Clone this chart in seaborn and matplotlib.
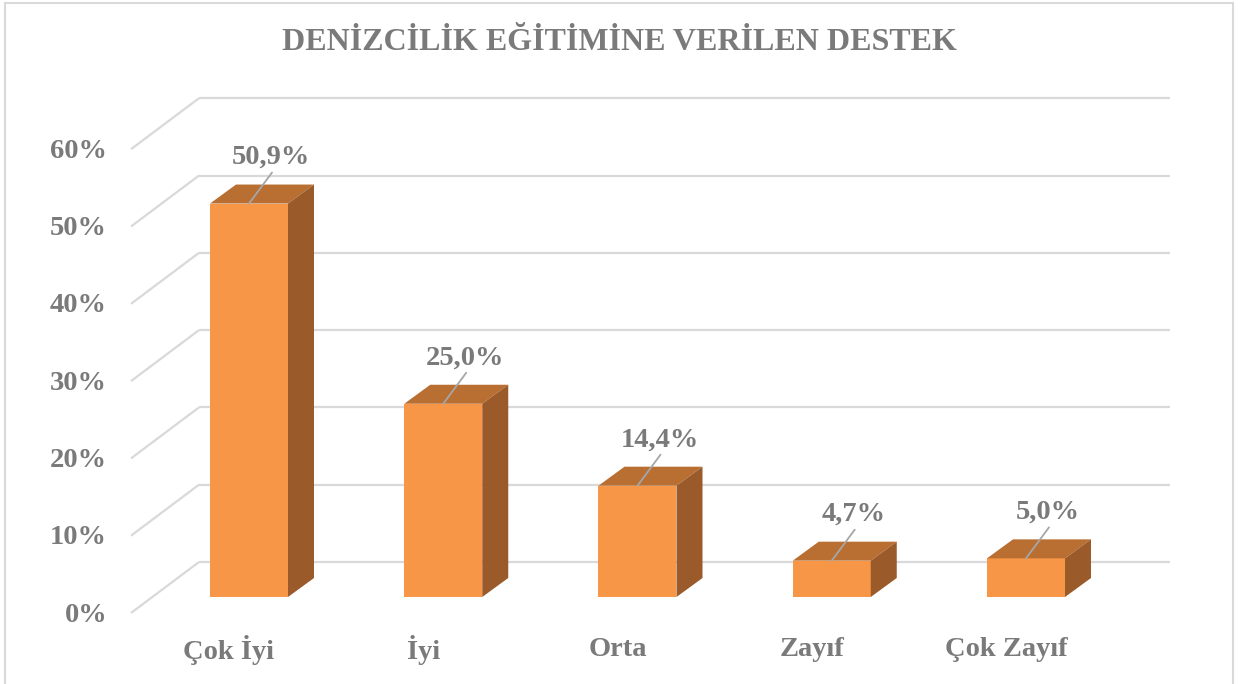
import matplotlib
matplotlib.use("Agg")
import matplotlib.pyplot as plt
from matplotlib.patches import Polygon, Rectangle
import seaborn as sns

# chart data
categories = ["Çok İyi", "İyi", "Orta", "Zayıf", "Çok Zayıf"]
values = [50.9, 25.0, 14.4, 4.7, 5.0]
value_labels = ["50,9%", "25,0%", "14,4%", "4,7%", "5,0%"]
y_ticks = [0, 10, 20, 30, 40, 50, 60]
y_tick_labels = ["0%", "10%", "20%", "30%", "40%", "50%", "60%"]
title = "DENİZCİLİK EĞİTİMİNE VERİLEN DESTEK"

# colours
front_col = "#F79646"
top_col = "#B96F32"
side_col = "#9A5A2A"
grid_col = "#D9D9D9"
text_col = "#7A7A7A"

sns.set_style("white")
plt.rcParams["font.family"] = ["Liberation Serif", "DejaVu Serif"]

W, H = 1242, 684
# pixel scale of the bar front plane
PX_X = 194.25   # px per category
PX_Y = 7.73     # px per percent
X0, Y0 = 249, 597


def dx(p):
    return p / PX_X


def dy(p):
    return -p / PX_Y


fig = plt.figure(figsize=(W / 100, H / 100), dpi=100)
ax = fig.add_axes([0, 0, 1, 1])

sns.barplot(x=categories, y=values, ax=ax, color=front_col, saturation=1,
            width=78 / PX_X, linewidth=0, zorder=3)

ax.set_xlim(dx(0 - X0), dx(W - X0))
ax.set_ylim(dy(H - Y0), dy(0 - Y0))
ax.axis("off")

# 3d depth offsets
bar_dx, bar_dy = dx(26), dy(-19)
front_dy = dy(16)
back_dy = dy(-35)
wall_left, wall_right = dx(199 - X0), dx(1170 - X0)

# gridlines: diagonal on the side wall + horizontal line on the back wall
for t, lab in zip(y_ticks, y_tick_labels):
    ax.plot([wall_left - dx(68), wall_left], [t + front_dy, t + back_dy],
            color=grid_col, lw=1.6, zorder=1, solid_capstyle="butt")
    ax.plot([wall_left, wall_right], [t + back_dy, t + back_dy],
            color=grid_col, lw=1.6, zorder=1, solid_capstyle="butt")
    ax.text(dx(107 - X0), t + front_dy + dy(2), lab, ha="right", va="center",
            fontsize=20.5, fontweight="bold", color=text_col)

# top and side faces of the bars
for p, lab in zip(ax.patches, value_labels):
    x0, w, h = p.get_x(), p.get_width(), p.get_height()
    top = Polygon([(x0, h), (x0 + w, h), (x0 + w + bar_dx, h + bar_dy),
                   (x0 + bar_dx, h + bar_dy)], closed=True,
                  facecolor=top_col, edgecolor="none", zorder=4)
    side = Polygon([(x0 + w, 0), (x0 + w + bar_dx, bar_dy),
                    (x0 + w + bar_dx, h + bar_dy), (x0 + w, h)], closed=True,
                   facecolor=side_col, edgecolor="none", zorder=4)
    ax.add_patch(top)
    ax.add_patch(side)
    cx = x0 + w / 2
    ax.plot([cx, cx + dx(23)], [h, h + dy(-31)], color="#A6A6A6", lw=1.3,
            zorder=5)
    ax.text(cx + dx(22), h + dy(-46), lab, ha="center", va="center",
            fontsize=20.5, fontweight="bold", color=text_col, zorder=6)

# category labels
for i, cat in enumerate(categories):
    ax.text(i + dx(-20), dy(650 - Y0), cat, ha="center", va="center",
            fontsize=20.5, fontweight="bold", color=text_col)

fig.text(619 / W, 1 - 42 / H, title, ha="center", va="center",
         fontsize=23, fontweight="bold", color=text_col)

# chart border
fig.patches.append(Rectangle((5 / W, -0.01), 1228 / W, 1.01 - 3 / H,
                             transform=fig.transFigure, fill=False,
                             edgecolor=grid_col, lw=1.5))

fig.savefig("out.png", dpi=100)
